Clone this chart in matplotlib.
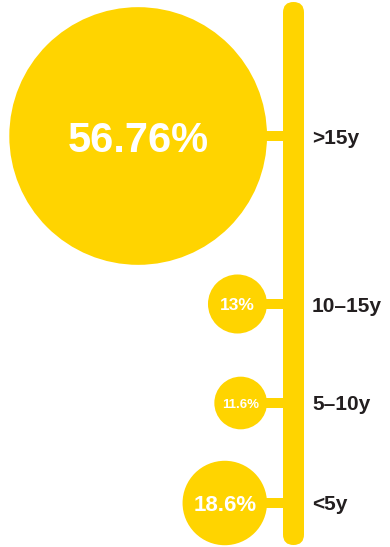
import matplotlib.pyplot as plt
from matplotlib.patches import Circle, FancyBboxPatch, Rectangle

# share of each age group, in percent
age_groups = ['>15y', '10–15y', '5–10y', '<5y']
shares = [56.76, 13.0, 11.6, 18.6]
share_labels = ['56.76%', '13%', '11.6%', '18.6%']

yellow = '#FFD400'
dark = '#231F20'

# layout in pixels (figure is 390 x 547)
W, H = 390, 547
row_y = [136, 304, 403, 503]
bar_x0, bar_x1 = 283, 304
bubble_right = 267
px_per_pct = 2.27
value_sizes = [30, 12.5, 9.5, 16]

fig = plt.figure(figsize=(W / 100, H / 100), dpi=100)
ax = fig.add_axes([0, 0, 1, 1])
ax.set_xlim(0, W)
ax.set_ylim(H, 0)
ax.set_aspect('equal')
ax.axis('off')

# vertical spine with rounded ends
bar_w = bar_x1 - bar_x0
ax.add_patch(FancyBboxPatch((bar_x0, 2), bar_w, 543,
                            boxstyle=f'round,pad=0,rounding_size={bar_w / 2}',
                            fc=yellow, ec='none'))

for name, val, txt, y, fs in zip(age_groups, shares, share_labels, row_y, value_sizes):
    r = val * px_per_pct
    cx = bubble_right - r
    ax.add_patch(Circle((cx, y), r, fc=yellow, ec='none'))
    # connector from bubble to spine
    ax.add_patch(Rectangle((cx + r - 2, y - 5), bar_x0 - (cx + r) + 4, 10,
                           fc=yellow, ec='none'))
    ax.text(cx, y, txt, color='white', fontsize=fs, fontweight='bold',
            family='Liberation Sans', ha='center', va='center_baseline')
    ax.text(312, y, name, color=dark, fontsize=15, fontweight='bold',
            family='Liberation Sans', ha='left', va='center_baseline')

fig.savefig('out.png', dpi=100, facecolor='white')
